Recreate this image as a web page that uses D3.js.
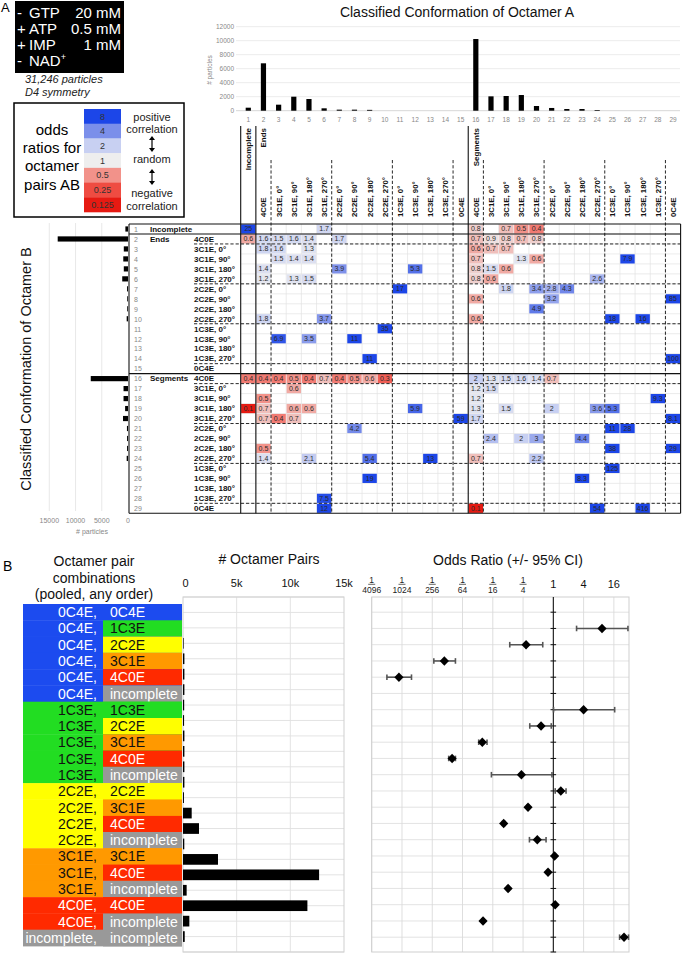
<!DOCTYPE html>
<html><head><meta charset="utf-8">
<script src="https://cdn.jsdelivr.net/npm/d3@7"></script>
<style>
body{margin:0;background:#fff;}
svg{display:block;font-family:"Liberation Sans",Arial,Helvetica,sans-serif;}
</style></head><body>
<svg id="c" width="683" height="954"></svg>
<script>
// ---------------- DATA ----------------
const conditionSigns = ["-", "+", "+", "-"];
const conditionNames = ["GTP", "ATP", "IMP", "NAD"];
const conditionValues = ["20 mM", "0.5 mM", "1 mM", ""];
const particleNote = ["31,246 particles", "D4 symmetry"];

const legendRatios = [8, 4, 2, 1, 0.5, 0.25, 0.125];
const legendRatioLabels = ["8", "4", "2", "1", "0.5", "0.25", "0.125"];

const conformationNumbers = d3.range(1, 30);
const groupLabels = ["Incomplete","Ends","","","","","","","","","","","","","","Segments","","","","","","","","","","","","",""];
const conformationLabels = ["","4C0E","3C1E, 0°","3C1E, 90°","3C1E, 180°","3C1E, 270°","2C2E, 0°","2C2E, 90°","2C2E, 180°","2C2E, 270°","1C3E, 0°","1C3E, 90°","1C3E, 180°","1C3E, 270°","0C4E","4C0E","3C1E, 0°","3C1E, 90°","3C1E, 180°","3C1E, 270°","2C2E, 0°","2C2E, 90°","2C2E, 180°","2C2E, 270°","1C3E, 0°","1C3E, 90°","1C3E, 180°","1C3E, 270°","0C4E"];
const solidBreaks = [1, 15];
const dashedBreaks = [2, 6, 10, 14, 16, 20, 24, 28];

const countsA = [430, 6770, 860, 2000, 1670, 340, 150, 150, 120, 0, 0, 0, 0, 0, 0, 10240, 2050, 2100, 2240, 670, 390, 240, 240, 100, 0, 0, 0, 0, 0];
const countsB = [500, 13400, 800, 900, 800, 1100, 180, 150, 150, 250, 0, 0, 0, 0, 0, 7100, 850, 850, 550, 950, 200, 180, 180, 250, 0, 0, 0, 0, 0];
const ticksA = [0, 2000, 4000, 6000, 8000, 10000, 12000];
const ticksB = [0, 5000, 10000, 15000];

// [row (octamer B), column (octamer A), odds ratio]
const oddsCells = [
 [1,1,25],[1,6,1.7],[1,16,0.8],[1,18,0.7],[1,19,0.5],[1,20,0.4],
 [2,1,0.6],[2,2,1.6],[2,3,1.5],[2,4,1.6],[2,5,1.4],[2,7,1.7],[2,16,0.7],[2,17,0.9],[2,18,0.8],[2,19,0.7],[2,20,0.8],
 [3,2,1.8],[3,3,1.6],[3,5,1.3],[3,16,0.6],[3,17,0.7],[3,18,0.7],
 [4,3,1.5],[4,4,1.4],[4,5,1.4],[4,16,0.7],[4,19,1.3],[4,20,0.6],[4,26,7.9],
 [5,2,1.4],[5,7,3.9],[5,12,5.3],[5,16,0.8],[5,17,1.5],[5,18,0.6],
 [6,2,1.2],[6,4,1.3],[6,5,1.5],[6,16,0.8],[6,17,0.6],[6,24,2.6],
 [7,11,17],[7,18,1.8],[7,20,3.4],[7,21,2.8],[7,22,4.3],
 [8,16,0.6],[8,21,3.2],[8,29,85],
 [9,20,4.9],
 [10,2,1.8],[10,6,3.7],[10,16,0.6],[10,25,18],[10,27,16],
 [11,10,35],
 [12,3,6.9],[12,5,3.5],[12,8,11],
 [14,9,11],[14,29,100],
 [16,1,0.4],[16,2,0.4],[16,3,0.4],[16,4,0.5],[16,5,0.4],[16,6,0.7],[16,7,0.4],[16,8,0.5],[16,9,0.6],[16,10,0.3],
 [16,16,2],[16,17,1.3],[16,18,1.5],[16,19,1.6],[16,20,1.4],[16,21,0.7],
 [17,4,0.6],[17,16,1.2],[17,17,1.5],
 [18,2,0.5],[18,16,1.2],[18,28,9.3],
 [19,1,0.1],[19,2,0.7],[19,4,0.6],[19,5,0.6],[19,12,5.9],[19,16,1.3],[19,18,1.5],[19,21,2],[19,24,3.6],[19,25,5.3],
 [20,2,0.7],[20,3,0.4],[20,4,0.7],[20,15,59],[20,16,1.7],[20,29,8.1],
 [21,8,4.2],[21,25,11],[21,26,28],
 [22,17,2.4],[22,19,2],[22,20,3],[22,23,4.4],
 [23,2,0.5],[23,25,38],[23,29,29],
 [24,2,1.4],[24,5,2.1],[24,9,5.4],[24,13,13],[24,16,0.7],[24,20,2.2],
 [25,25,125],
 [26,9,19],[26,23,8.3],
 [28,6,7.5],
 [29,6,12],[29,16,0.1],[29,24,54],[29,27,416]
];

// Panel B
const pairLeft = ["0C4E","0C4E","0C4E","0C4E","0C4E","0C4E","1C3E","1C3E","1C3E","1C3E","1C3E","2C2E","2C2E","2C2E","2C2E","3C1E","3C1E","3C1E","4C0E","4C0E","incomplete"];
const pairRight = ["0C4E","1C3E","2C2E","3C1E","4C0E","incomplete","1C3E","2C2E","3C1E","4C0E","incomplete","2C2E","3C1E","4C0E","incomplete","3C1E","4C0E","incomplete","4C0E","incomplete","incomplete"];
const pairCounts = [0, 60, 130, 130, 130, 110, 100, 130, 130, 130, 130, 90, 810, 1490, 120, 3260, 12680, 340, 11590, 590, 160];
const pairTicks = [0, 5000, 10000, 15000];
const pairTickLabels = ["0", "5k", "10k", "15k"];
const oddsPoint = [null, 9.3, 0.287, 0.0068, 0.00085, null, 4.0, 0.57, 0.0387, 0.0097, 0.232, 1.41, 0.314, 0.103, 0.48, 1.06, 0.785, 0.126, 1.09, 0.040, 25.5];
const oddsLow   = [null, 2.9, 0.136, 0.0042, 0.00049, null, 1.01, 0.34, 0.0328, 0.0083, 0.0587, 1.09, 0.30, 0.098, 0.335, 1.03, 0.77, 0.12, 1.07, 0.038, 20.8];
const oddsHigh  = [null, 30.5, 0.616, 0.0113, 0.00151, null, 16.6, 0.91, 0.048, 0.0113, 0.94, 1.79, 0.33, 0.108, 0.717, 1.09, 0.80, 0.132, 1.11, 0.042, 31.3];
const oddsTicks = [1/4096, 1/1024, 1/256, 1/64, 1/16, 1/4, 1, 4, 16];
const oddsTickNum = ["1","1","1","1","1","1","","",""];
const oddsTickDen = ["4096","1024","256","64","16","4","1","4","16"];

// ---------------- DRAW ----------------
const svg = d3.select("#c");
const pairColor = {"0C4E":"#1c4bef","1C3E":"#22dd22","2C2E":"#ffff00","3C1E":"#ff9900","4C0E":"#ff2a00","incomplete":"#999999"};
const pairText = {"0C4E":"#fff","1C3E":"#111","2C2E":"#111","3C1E":"#111","4C0E":"#fff","incomplete":"#fff"};
const oddsColor = d3.scaleLinear().domain([-3,-2,-1,0,1,2,3])
  .range(["#e61a12","#ef4c42","#f2928a","#eeeeee","#c8d0f2","#7b8fea","#1c46e8"]).clamp(true);
const colorOf = v => oddsColor(Math.log2(v));

// Panel labels
svg.append("text").attr("x",1).attr("y",12).attr("font-size",13).text("A");
svg.append("text").attr("x",3).attr("y",571).attr("font-size",14).text("B");

// Conditions box
svg.append("rect").attr("x",15).attr("y",1).attr("width",109).attr("height",72).attr("fill","#000");
const cond = svg.append("g").attr("font-size",15).attr("fill","#fff");
conditionNames.forEach((n,i)=>{
  const y = 18.3 + i*16;
  cond.append("text").attr("x",17).attr("y",y).text(conditionSigns[i]);
  const t = cond.append("text").attr("x",29).attr("y",y).text(n);
  if (n==="NAD") t.append("tspan").attr("font-size",9).attr("dy",-6).text("+");
  cond.append("text").attr("x",121).attr("y",y).attr("text-anchor","end").text(conditionValues[i]);
});
particleNote.forEach((s,i)=> svg.append("text").attr("x",25).attr("y",83+i*13).attr("font-size",11)
  .attr("font-style","italic").attr("fill","#222").text(s));

// Legend
svg.append("rect").attr("x",14).attr("y",103).attr("width",170).attr("height",114)
  .attr("fill","none").attr("stroke","#000").attr("stroke-width",1.5);
["odds","ratios for","octamer","pairs AB"].forEach((s,i)=> svg.append("text").attr("x",52).attr("y",134.5+i*18.4)
  .attr("text-anchor","middle").attr("font-size",15).text(s));
const legY = d3.scaleBand().domain(legendRatios).range([109,212]);
legendRatios.forEach((r,i)=>{
  svg.append("rect").attr("x",84).attr("y",legY(r)).attr("width",37).attr("height",legY.bandwidth()+0.3).attr("fill",colorOf(r));
  svg.append("text").attr("x",102.5).attr("y",legY(r)+legY.bandwidth()/2+3.2).attr("text-anchor","middle")
    .attr("font-size",9).attr("fill","#333").text(legendRatioLabels[i]);
});
[["positive",121],["correlation",133],["random",163],["negative",197],["correlation",210]].forEach(([s,y])=>
  svg.append("text").attr("x",152).attr("y",y).attr("text-anchor","middle").attr("font-size",11).attr("fill","#222").text(s));
[[136,152],[169,185]].forEach(([a,b])=>{
  svg.append("line").attr("x1",152).attr("x2",152).attr("y1",a+2).attr("y2",b-2).attr("stroke","#000").attr("stroke-width",1.2);
  svg.append("path").attr("d",`M149,${a+4}L152,${a}L155,${a+4}Z M149,${b-4}L152,${b}L155,${b-4}Z`).attr("fill","#000");
});

// Matrix scales
const xCol = d3.scaleBand().domain(conformationNumbers).range([240.7, 680.6]);
const yRow = d3.scaleBand().domain(conformationNumbers).range([224, 513.3]);
const bw = xCol.bandwidth(), bh = yRow.bandwidth();
const xEdge = k => 240.7 + k*bw;   // boundary after column k
const yEdge = k => 224 + k*bh;

// Top bar chart (Octamer A)
const yA = d3.scaleLinear().domain([0,12000]).range([110.7, 26.7]);
svg.append("text").attr("x",457).attr("y",17).attr("text-anchor","middle").attr("font-size",14).attr("fill","#111")
  .text("Classified Conformation of Octamer A");
ticksA.forEach(t=>{
  svg.append("line").attr("x1",236).attr("x2",680).attr("y1",yA(t)).attr("y2",yA(t)).attr("stroke", t===0?"#ccc":"#e6e6e6").attr("stroke-width",0.8);
});
const axA = svg.append("g").attr("transform","translate(235,0)")
  .call(d3.axisLeft(yA).tickValues(ticksA).tickFormat(d3.format("d")).tickSize(0).tickPadding(1));
axA.select(".domain").remove();
axA.selectAll("text").attr("font-size",6.5).attr("fill","#888").attr("font-family","Liberation Sans, Arial, sans-serif");
svg.append("text").attr("transform","translate(212,70) rotate(-90)").attr("text-anchor","middle")
  .attr("font-size",6.5).attr("fill","#888").text("# particles");
svg.selectAll(".barA").data(countsA).join("rect").attr("class","barA")
  .attr("x",(d,i)=>xCol(i+1)+bw/2-2.6).attr("width",5.2)
  .attr("y",d=>yA(d)).attr("height",d=>yA(0)-yA(d)).attr("fill","#000");
conformationNumbers.forEach(n=> svg.append("text").attr("x",xCol(n)+bw/2).attr("y",121.5)
  .attr("text-anchor","middle").attr("font-size",6.5).attr("fill","#888").text(n));

// Column headers
conformationNumbers.forEach((n,i)=>{
  const cx = xCol(n)+bw/2;
  if (conformationLabels[i]) svg.append("text").attr("transform",`translate(${cx+2.9},217) rotate(-90)`)
    .attr("font-size",7.8).attr("font-weight","bold").attr("fill","#111").text(conformationLabels[i]);
  if (groupLabels[i]) svg.append("text").attr("transform",`translate(${cx+2.9},128) rotate(-90)`)
    .attr("text-anchor","end").attr("font-size",8).attr("font-weight","bold").attr("fill","#111").text(groupLabels[i]);
});

// Left histogram (Octamer B)
const xB = d3.scaleLinear().domain([0,15000]).range([128, 49.3]);
ticksB.forEach(t=>{
  if (t>0) svg.append("line").attr("x1",xB(t)).attr("x2",xB(t)).attr("y1",223).attr("y2",511).attr("stroke","#e2e2e2").attr("stroke-width",0.8);
  svg.append("text").attr("x",xB(t)).attr("y",522.5).attr("text-anchor","middle").attr("font-size",7).attr("fill","#888").text(t);
});
svg.append("text").attr("x",92).attr("y",534).attr("text-anchor","middle").attr("font-size",7).attr("fill","#888").text("# particles");
svg.selectAll(".barB").data(countsB).join("rect").attr("class","barB")
  .attr("x",d=>xB(d)).attr("width",d=>xB(0)-xB(d))
  .attr("y",(d,i)=>yRow(i+1)+bh/2-2.6).attr("height",5.2).attr("fill","#000");
svg.append("text").attr("transform","translate(26,369) rotate(-90)").attr("text-anchor","middle").attr("dy","0.35em")
  .attr("font-size",14.5).attr("fill","#111").text("Classified Conformation of Octamer B");

// Row labels
conformationNumbers.forEach((n,i)=>{
  const cy = yRow(n)+bh/2+2.8;
  svg.append("text").attr("x",134).attr("y",cy).attr("font-size",7).attr("fill","#888").text(n);
  if (groupLabels[i]) svg.append("text").attr("x",150).attr("y",cy).attr("font-size",8).attr("font-weight","bold").attr("fill","#111").text(groupLabels[i]);
  if (conformationLabels[i]) svg.append("text").attr("x",194).attr("y",cy).attr("font-size",8).attr("font-weight","bold").attr("fill","#111").text(conformationLabels[i]);
});

// Matrix light grid
const grid = svg.append("g").attr("stroke","#e3e3e3").attr("stroke-width",0.7);
d3.range(1,29).forEach(k=>{
  grid.append("line").attr("x1",xEdge(k)).attr("x2",xEdge(k)).attr("y1",224).attr("y2",513.3);
  grid.append("line").attr("x1",240.7).attr("x2",680.6).attr("y1",yEdge(k)).attr("y2",yEdge(k));
});

// Cells
const cells = svg.append("g");
cells.selectAll("rect").data(oddsCells).join("rect")
  .attr("x",d=>xCol(d[1])+0.4).attr("y",d=>yRow(d[0])+0.4)
  .attr("width",bw-0.8).attr("height",bh-0.8).attr("fill",d=>colorOf(d[2]));
cells.selectAll("text").data(oddsCells).join("text")
  .attr("x",d=>xCol(d[1])+bw/2).attr("y",d=>yRow(d[0])+bh/2+2.5).attr("text-anchor","middle")
  .attr("font-size",7).attr("fill","#2a2a2a").text(d=>d[2]);

// Structure lines
const ln = svg.append("g").attr("stroke","#111").attr("fill","none");
[0, ...solidBreaks, 29].forEach(k=> ln.append("line").attr("x1",129).attr("x2",680.6).attr("y1",yEdge(k)).attr("y2",yEdge(k)).attr("stroke-width",1.1));
dashedBreaks.forEach(k=> ln.append("line").attr("x1",194).attr("x2",680.6).attr("y1",yEdge(k)).attr("y2",yEdge(k)).attr("stroke-width",0.9).attr("stroke-dasharray","3.2,2"));
ln.append("line").attr("x1",129).attr("x2",129).attr("y1",224).attr("y2",513.3).attr("stroke-width",1.1);
ln.append("line").attr("x1",680.6).attr("x2",680.6).attr("y1",224).attr("y2",513.3).attr("stroke-width",1.1);
[0, ...solidBreaks].forEach(k=> ln.append("line").attr("x1",xEdge(k)).attr("x2",xEdge(k)).attr("y1",126).attr("y2",513.3).attr("stroke-width",1.1));
dashedBreaks.forEach(k=> ln.append("line").attr("x1",xEdge(k)).attr("x2",xEdge(k)).attr("y1",160).attr("y2",513.3).attr("stroke-width",0.9).attr("stroke-dasharray","3.2,2"));

// ---------------- PANEL B ----------------
["Octamer pair","combinations","(pooled, any order)"].forEach((s,i)=> svg.append("text").attr("x",94).attr("y",566+i*16.5)
  .attr("text-anchor","middle").attr("font-size",14).attr("fill","#111").text(s));
svg.append("text").attr("x",269).attr("y",564).attr("text-anchor","middle").attr("font-size",14).attr("fill","#111").text("# Octamer Pairs");
svg.append("text").attr("x",508).attr("y",565).attr("text-anchor","middle").attr("font-size",14).attr("fill","#111").text("Odds Ratio (+/- 95% CI)");

// label blocks
const yL = d3.scaleBand().domain(d3.range(pairLeft.length)).range([604, 946]);
pairLeft.forEach((a,i)=>{
  const b = pairRight[i];
  svg.append("rect").attr("x",23).attr("y",yL(i)).attr("width",159).attr("height",yL.bandwidth()+0.4).attr("fill",pairColor[a]);
  svg.append("rect").attr("x",103).attr("y",yL(i)).attr("width",79).attr("height",yL.bandwidth()+0.4).attr("fill",pairColor[b]);
  const cy = yL(i)+yL.bandwidth()/2+5;
  svg.append("text").attr("x",97).attr("y",cy).attr("text-anchor","end").attr("font-size",14).attr("fill",pairText[a]).text(a+",");
  svg.append("text").attr("x",110).attr("y",cy).attr("font-size",14).attr("fill",pairText[b]).text(b);
});

// bar chart
const xP = d3.scaleLinear().domain([0,15000]).range([183, 344]);
const step = (952-597)/23;
const yP = d3.scalePoint().domain(d3.range(pairCounts.length)).range([597+2*step, 597+22*step]);
const gP = svg.append("g");
d3.range(24).forEach(k=> gP.append("line").attr("x1",183).attr("x2",344).attr("y1",597+k*step).attr("y2",597+k*step).attr("stroke","#e0e0e0").attr("stroke-width",0.9));
pairTicks.forEach((t,i)=>{
  if (t>0 && t<15000) gP.append("line").attr("x1",xP(t)).attr("x2",xP(t)).attr("y1",597).attr("y2",952).attr("stroke","#e0e0e0").attr("stroke-width",0.9);
  svg.append("text").attr("x",xP(t)+(i===0?2.5:0)).attr("y",587).attr("text-anchor","middle").attr("font-size",11).attr("fill","#111").text(pairTickLabels[i]);
});
gP.append("rect").attr("x",183).attr("y",597).attr("width",161).attr("height",355).attr("fill","none").attr("stroke","#cfcfcf");
gP.selectAll(".barP").data(pairCounts).join("rect").attr("class","barP")
  .attr("x",xP(0)).attr("width",d=>xP(d)-xP(0))
  .attr("y",(d,i)=>yP(i)-5.35).attr("height",10.7).attr("fill","#000");

// odds ratio chart
const xO = d3.scaleLog().base(2).domain([1/4096, 32]).range([371.7, 629]);
const yO = d3.scalePoint().domain(d3.range(oddsPoint.length)).range([612.2, 937.2]);
const gO = svg.append("g");
yO.domain().forEach(i=> gO.append("line").attr("x1",371.7).attr("x2",629).attr("y1",yO(i)).attr("y2",yO(i)).attr("stroke","#e0e0e0").attr("stroke-width",0.9));
oddsTicks.forEach((t,i)=>{
  const x = xO(t);
  if (t!==1) gO.append("line").attr("x1",x).attr("x2",x).attr("y1",597).attr("y2",952).attr("stroke","#dadada").attr("stroke-width",0.9);
  if (oddsTickNum[i]) {
    svg.append("text").attr("x",x).attr("y",582.5).attr("text-anchor","middle").attr("font-size",8.5).attr("fill","#222").text(oddsTickNum[i]);
    svg.append("line").attr("x1",x-3.5).attr("x2",x+3.5).attr("y1",584.3).attr("y2",584.3).attr("stroke","#222").attr("stroke-width",0.7);
    svg.append("text").attr("x",x).attr("y",593).attr("text-anchor","middle").attr("font-size",8.5).attr("fill","#222").text(oddsTickDen[i]);
  } else {
    svg.append("text").attr("x",x).attr("y",587.5).attr("text-anchor","middle").attr("font-size",11).attr("fill","#111").text(oddsTickDen[i]);
  }
});
gO.append("rect").attr("x",371.7).attr("y",597).attr("width",629-371.7).attr("height",355).attr("fill","none").attr("stroke","#cfcfcf");
gO.append("line").attr("x1",xO(1)).attr("x2",xO(1)).attr("y1",597).attr("y2",952).attr("stroke","#111").attr("stroke-width",1.1);
[...yO.domain().map(i=>yO(i)), 952].forEach(y=> gO.append("line").attr("x1",xO(1)-2.8).attr("x2",xO(1)+2.8).attr("y1",y).attr("y2",y).attr("stroke","#111").attr("stroke-width",1));
oddsPoint.forEach((p,i)=>{
  if (p===null) return;
  const y = yO(i), x1 = xO(oddsLow[i]), x2 = xO(oddsHigh[i]);
  gO.append("line").attr("x1",x1).attr("x2",x2).attr("y1",y).attr("y2",y).attr("stroke","#555").attr("stroke-width",1.6);
  [x1,x2].forEach(x=> gO.append("line").attr("x1",x).attr("x2",x).attr("y1",y-2.8).attr("y2",y+2.8).attr("stroke","#555").attr("stroke-width",1.6));
  const x = xO(p);
  gO.append("path").attr("d",`M${x-4.6},${y}L${x},${y-4.8}L${x+4.6},${y}L${x},${y+4.8}Z`).attr("fill","#000");
});
</script>
</body></html>
